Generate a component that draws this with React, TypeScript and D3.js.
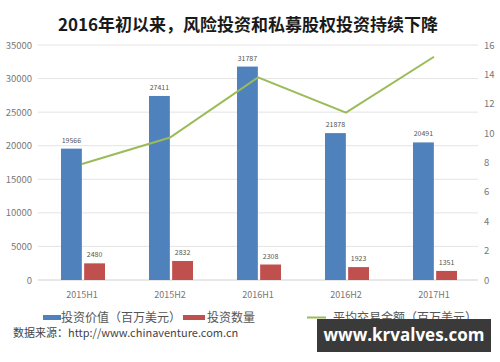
import { useEffect, useRef } from "react"
import * as d3 from "d3"

const categories = ["2015H1", "2015H2", "2016H1", "2016H2", "2017H1"]
const investValue = [19566, 27411, 31787, 21878, 20491]
const investCount = [2480, 2832, 2308, 1923, 1351]
const avgDeal = [7.9, 9.7, 13.8, 11.4, 15.2]
const leftTicks = [0, 5000, 10000, 15000, 20000, 25000, 30000, 35000]
const rightTicks = [0, 2, 4, 6, 8, 10, 12, 14, 16]

const W = 500
const H = 362
const font = "'Noto Sans CJK SC', 'Noto Sans', sans-serif"

export default function App() {
    const ref = useRef<SVGSVGElement>(null)

    useEffect(() => {
        const svg = d3.select(ref.current)
        svg.selectAll("*").remove()

        const margin = { top: 45, left: 38, right: 22, bottom: 82 }
        const innerW = W - margin.left - margin.right
        const y0 = H - margin.bottom

        const x = d3.scaleBand().domain(categories).range([margin.left, margin.left + innerW])
        const xs = d3.scaleBand().domain(["v", "c"]).range([23, 67]).paddingInner(0.1)
        const yL = d3.scaleLinear().domain([0, 35000]).range([y0, margin.top])
        const yR = d3.scaleLinear().domain([0, 16]).range([y0, margin.top])

        svg.append("rect").attr("width", W).attr("height", H).attr("fill", "#fff")

        // grid
        svg.append("g")
            .selectAll("line")
            .data(leftTicks)
            .join("line")
                .attr("x1", margin.left).attr("x2", margin.left + innerW)
                .attr("y1", d => yL(d)).attr("y2", d => yL(d))
                .attr("stroke", d => d === 0 ? "#d0d0d0" : "#e4e4e4")
                .attr("stroke-width", 1)

        // left axis labels
        svg.append("g")
            .selectAll("text")
            .data(leftTicks)
            .join("text")
                .attr("x", 32).attr("y", d => yL(d) + 3.5)
                .attr("text-anchor", "end")
                .attr("font-size", 9.5).attr("fill", "#777")
                .attr("font-family", font)
                .text(d => d)

        // right axis labels
        svg.append("g")
            .selectAll("text")
            .data(rightTicks)
            .join("text")
                .attr("x", 484).attr("y", d => yR(d) + 3.5)
                .attr("font-size", 9.5).attr("fill", "#777")
                .attr("font-family", font)
                .text(d => d)

        // category labels
        svg.append("g")
            .selectAll("text")
            .data(categories)
            .join("text")
                .attr("x", d => x(d)! + x.bandwidth() / 2)
                .attr("y", 298)
                .attr("text-anchor", "middle")
                .attr("font-size", 9).attr("fill", "#777")
                .attr("font-family", font)
                .text(d => d)

        const series = [
            { key: "v", values: investValue, color: "#4f81bd" },
            { key: "c", values: investCount, color: "#c0504d" },
        ]

        series.forEach(s => {
            const g = svg.append("g")
            g.selectAll("rect")
                .data(s.values)
                .join("rect")
                    .attr("x", (_, i) => x(categories[i])! + xs(s.key)!)
                    .attr("width", xs.bandwidth())
                    .attr("y", d => yL(d))
                    .attr("height", d => y0 - yL(d))
                    .attr("fill", s.color)
            g.selectAll("text")
                .data(s.values)
                .join("text")
                    .attr("x", (_, i) => x(categories[i])! + xs(s.key)! + xs.bandwidth() / 2)
                    .attr("y", d => yL(d) - 6)
                    .attr("text-anchor", "middle")
                    .attr("font-size", 7).attr("fill", "#555")
                    .attr("font-family", font)
                    .text(d => d)
        })

        const line = d3.line<number>()
            .x((_, i) => x(categories[i])! + x.bandwidth() / 2)
            .y(d => yR(d))
        svg.append("path")
            .attr("d", line(avgDeal))
            .attr("fill", "none")
            .attr("stroke", "#9bbb59")
            .attr("stroke-width", 2)

        // title
        svg.append("text")
            .attr("x", 248).attr("y", 31)
            .attr("text-anchor", "middle")
            .attr("font-size", 17).attr("font-weight", "bold")
            .attr("fill", "#1a1a1a")
            .attr("font-family", font)
            .text("2016年初以来，风险投资和私募股权投资持续下降")

        // legend
        const lg = svg.append("g").attr("font-family", font).attr("font-size", 12).attr("fill", "#555")
        lg.append("rect").attr("x", 43).attr("y", 315).attr("width", 18).attr("height", 5).attr("fill", "#4f81bd")
        lg.append("text").attr("x", 61).attr("y", 322).text("投资价值（百万美元）")
        lg.append("rect").attr("x", 183).attr("y", 315).attr("width", 22).attr("height", 5).attr("fill", "#c0504d")
        lg.append("text").attr("x", 207).attr("y", 322).text("投资数量")
        lg.append("line").attr("x1", 307).attr("x2", 326).attr("y1", 317.5).attr("y2", 317.5)
            .attr("stroke", "#9bbb59").attr("stroke-width", 2)
        lg.append("text").attr("x", 333).attr("y", 322).text("平均交易金额（百万美元）")

        // source
        svg.append("text")
            .attr("x", 13).attr("y", 337)
            .attr("font-size", 11).attr("fill", "#444")
            .attr("font-family", font)
            .text("数据来源：http://www.chinaventure.com.cn")

        // watermark
        svg.append("rect")
            .attr("x", 317).attr("y", 319).attr("width", 174).attr("height", 33)
            .attr("fill", "#3a3a3a")
        svg.append("text")
            .attr("x", 404).attr("y", 341)
            .attr("text-anchor", "middle")
            .attr("font-size", 17).attr("font-weight", "bold").attr("fill", "#fff")
            .attr("font-family", "'Open Sans', 'DejaVu Sans', sans-serif")
            .text("www.krvalves.com")
    })

    return (
        <svg ref={ref} width={W} height={H}
            style={{ position: "absolute", left: 0, top: 0, display: "block" }} />
    )
}
